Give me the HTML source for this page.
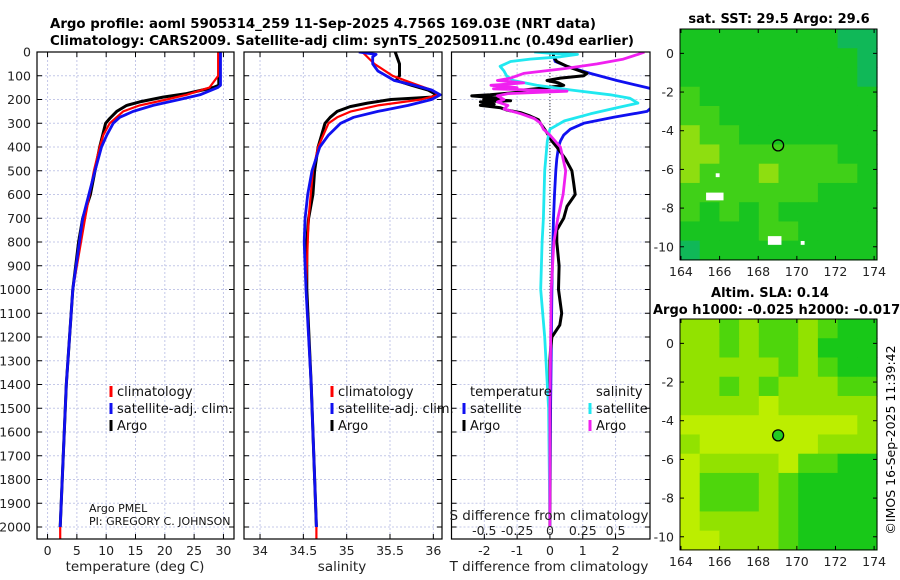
<!DOCTYPE html>
<html><head><meta charset="utf-8"><style>
html,body{margin:0;padding:0;background:#fff;}
svg{display:block;font-family:"DejaVu Sans","Liberation Sans",sans-serif;}
</style></head><body>
<svg id="fig" width="900" height="580" viewBox="0 0 900 580" xmlns="http://www.w3.org/2000/svg">
<g font-weight="bold" font-size="13.5" fill="#000">
<text x="50" y="28" textLength="546" lengthAdjust="spacingAndGlyphs">Argo profile: aoml 5905314_259 11-Sep-2025 4.756S 169.03E (NRT data)</text>
<text x="50" y="45" textLength="584" lengthAdjust="spacingAndGlyphs">Climatology: CARS2009. Satellite-adj clim: synTS_20250911.nc (0.49d earlier)</text>
</g>
<g id="plots"></g>
<g id="maps"></g>
<text transform="translate(895,440) rotate(-90)" text-anchor="middle" font-size="12.5">©IMOS 16-Sep-2025 11:39:42</text>
</svg>
<script>
// ---- data ----
const depthTicks=[0,100,200,300,400,500,600,700,800,900,1000,1100,1200,1300,1400,1500,1600,1700,1800,1900,2000];
const tempTicks=[0,5,10,15,20,25,30];
const salTicks=[34,34.5,35,35.5,36];
const tdTicks=[-2,-1,0,1,2];
const sdTicks=[-0.5,-0.25,0,0.25,0.5];
const sdTickLabels=["-0.5","-0.25","0","0.25","0.5"];
const tArgoD=[0,140,150,175,190,210,225,250,280,300,400,500,600,700,800,900,1000,1400,2000];
const tArgoV=[29.2,29.2,28.2,23.7,19.7,15.7,13.5,11.8,10.6,9.9,8.9,8.1,7.3,6.0,5.3,4.8,4.3,3.2,2.15];
const tClimD=[0,100,150,180,200,225,250,300,350,400,500,700,1000,1400,2000,2050];
const tClimV=[29.1,29.1,27.6,23.7,20.3,15.7,12.9,10.6,9.5,8.9,7.9,6.4,4.3,3.2,2.15,2.15];
const tSatD=[0,140,150,180,200,225,250,275,300,350,400,500,700,1000,1400,2000];
const tSatV=[29.5,29.5,29.0,26,22.5,18,14.6,12.3,11.2,10.1,9.2,8.1,6.0,4.3,3.2,2.15];
const sArgoD=[0,50,100,120,140,160,180,190,200,215,230,250,275,300,350,400,500,600,700,800,1000,1400,2000];
const sArgoV=[35.56,35.61,35.61,35.57,35.75,35.94,36.04,35.98,35.51,35.24,35.04,34.89,34.81,34.75,34.71,34.67,34.63,34.61,34.56,34.54,34.54,34.59,34.65];
const sClimD=[0,50,100,130,160,180,200,225,250,275,300,400,500,700,1000,1400,2000,2050];
const sClimV=[35.18,35.32,35.53,35.75,35.98,36.06,35.86,35.36,35.05,34.89,34.79,34.67,34.61,34.56,34.53,34.59,34.65,34.65];
const sSatD=[0,10,20,50,80,120,140,160,180,200,225,250,275,300,350,400,500,600,700,800,1000,1400,2000];
const sSatV=[35.14,35.34,35.3,35.3,35.36,35.55,35.78,35.98,36.08,35.98,35.71,35.36,35.08,34.93,34.79,34.69,34.6,34.55,34.52,34.51,34.53,34.59,34.65];
const dtSatD=[0,20,40,60,90,120,150,175,250,275,300,325,350,375,400,450,500,600,700,800,1000,1500,2000];
const dtSatV=[0.11,0.11,0.16,0.52,1.23,2.04,2.96,3.6,2.96,1.94,1.03,0.62,0.42,0.32,0.26,0.21,0.18,0.14,0.11,0.09,0.06,0.02,0];
const dtArgoD=[0,20,40,60,80,90,100,110,120,130,140,150,160,170,180,185,195,200,205,210,220,225,235,245,255,270,285,300,320,340,375,400,450,500,550,600,650,700,750,800,900,1000,1100,1150,1200,1250,1300,1500,2000];
const dtArgoV=[0.11,0.11,0.21,0.52,0.92,1.13,1.03,0.32,-0.09,0.26,0.42,-0.09,-0.8,-1.0,-1.82,-2.38,-1.5,-2.02,-1.2,-2.12,-1.7,-2.12,-1.5,-1.3,-0.9,-0.6,-0.35,-0.29,-0.19,-0.09,0.06,0.21,0.47,0.67,0.72,0.77,0.52,0.42,0.21,0.21,0.28,0.26,0.36,0.3,0.06,0.02,0.0,0.0,0.0];
const dsSatD=[0,5,10,20,30,40,60,80,100,120,140,160,180,195,215,235,260,290,325,375,500,700,800,1000,1200,1500,2000];
const dsSatV=[-0.12,0,0.21,0.08,-0.15,-0.3,-0.38,-0.35,-0.33,-0.28,-0.1,0.16,0.46,0.61,0.67,0.51,0.31,0.11,0,-0.02,-0.04,-0.05,-0.06,-0.07,-0.04,-0.01,0];
const dsArgoD=[0,10,30,50,70,90,110,120,130,140,150,155,165,175,185,200,210,225,240,260,280,300,325,350,400,450,500,600,700,800,1000,1500,2000];
const dsArgoV=[0.72,0.67,0.56,0.36,0.11,-0.2,-0.3,-0.4,-0.2,-0.45,-0.25,-0.43,0.13,-0.32,-0.4,-0.35,-0.4,-0.32,-0.35,-0.22,-0.12,-0.07,-0.05,0,0.08,0.1,0.12,0.1,0.06,0.03,0.01,0,0];
const mapLonTicks=[164,166,168,170,172,174];
const mapLatTicks=[0,-2,-4,-6,-8,-10];
const floatLon=169.03, floatLat=-4.756;
const sstGrid=["1111111100","1111111110","1111111110","2111111111","2211111111","3221111111","3322222211","3222322221","2222222111","2121211111","1111221111","0111111111"];
const slaGrid=["1121221233","1121221333","1111121233","1121211122","1111011111","0000000001","1000000111","0111102233","0222123333","0222123333","0111123333","0011123333"];
// ---- drawing ----
const NS="http://www.w3.org/2000/svg";
function mk(tag,attrs,parent){const e=document.createElementNS(NS,tag);for(const k in attrs)e.setAttribute(k,attrs[k]);parent.appendChild(e);return e;}
const plots=document.getElementById('plots');
const Y0=52,YK=0.2375,YB=539;
const yOf=d=>Y0+d*YK;
function panel(name,x0,x1,xmin,xmax){
  const g=mk('g',{},plots);
  
  
  return {g,x0,x1,xs:v=>x0+(v-xmin)/(xmax-xmin)*(x1-x0)};
}
function frame(p,xt,labels,showY){
  const grid=mk('g',{stroke:'#c4c8e8','stroke-width':1,'stroke-dasharray':'2,2'},p.g);
  
  
  depthTicks.forEach(d=>{mk('line',{x1:p.x0,x2:p.x1,y1:yOf(d),y2:yOf(d)},grid);});
  xt.forEach(v=>{mk('line',{x1:p.xs(v),x2:p.xs(v),y1:Y0,y2:YB},grid);});
  const tk=mk('g',{stroke:'#000','stroke-width':1},p.g);
  depthTicks.forEach(d=>{mk('line',{x1:p.x0,x2:p.x0+5,y1:yOf(d),y2:yOf(d)},tk);mk('line',{x1:p.x1,x2:p.x1-5,y1:yOf(d),y2:yOf(d)},tk);});
  xt.forEach(v=>{mk('line',{x1:p.xs(v),x2:p.xs(v),y1:YB,y2:YB-5},tk);mk('line',{x1:p.xs(v),x2:p.xs(v),y1:Y0,y2:Y0+5},tk);});
  const tl=mk('g',{'font-size':12.5,fill:'#222','text-anchor':'middle'},p.g);
  
  
  xt.forEach((v,i)=>{const t=mk('text',{x:p.xs(v),y:555},tl);t.textContent=labels[i];});
  if(showY){const yl=mk('g',{'font-size':12.5,fill:'#222','text-anchor':'end'},p.g);
    
    
    depthTicks.forEach(d=>{const t=mk('text',{x:31,y:yOf(d)+4.5},yl);t.textContent=d;});}
}
function border(p){const r=mk('rect',{x:p.x0,y:Y0,width:p.x1-p.x0,height:YB-Y0,fill:'none',stroke:'#000','stroke-width':1.2},p.g);
  
  }
function line(p,D,V,color,w,name,xf){
  const f=xf||p.xs;
  const pts=D.map((d,i)=>f(V[i]).toFixed(1)+','+yOf(d).toFixed(1)).join(' ');
  const l=mk('polyline',{points:pts,fill:'none',stroke:color,'stroke-width':w,'stroke-linejoin':'round'},p.g);
  
  
}
function text(parent,x,y,s,attrs,name){const t=mk('text',Object.assign({x:x,y:y},attrs||{}),parent);t.textContent=s;
  
  return t;}
function legendEntry(parent,x,y,color,label,name){
  const g=mk('g',{},parent);
  
  
  mk('line',{x1:x,x2:x,y1:y-10,y2:y+1,stroke:color,'stroke-width':3},g);
  const t=mk('text',{x:x+6,y:y,'font-size':13,fill:'#111'},g);t.textContent=label;
}
// panel 1
const p1=panel('temperature-panel',37,234,-1.8,31.8);
frame(p1,tempTicks,tempTicks.map(String),true);
{const c=mk('clipPath',{id:'cp1'},plots);mk('rect',{x:37,y:Y0,width:197,height:YB-Y0},c);}
const c1=mk('g',{'clip-path':'url(#cp1)'},p1.g);
const p1c={g:c1,xs:p1.xs};
line(p1c,tArgoD,tArgoV,'#000',3,'temperature-argo-line');
line(p1c,tClimD,tClimV,'#f00',2.2,'temperature-climatology-line');
line(p1c,tSatD,tSatV,'#1010f0',2.8,'temperature-satellite-line');
border(p1);
text(p1.g,135,571,'temperature (deg C)',{'font-size':13.5,'text-anchor':'middle',fill:'#222'},'x-axis-title-temperature');
legendEntry(p1.g,111,396,'#f00','climatology','legend-climatology');
legendEntry(p1.g,111,413,'#1010f0','satellite-adj. clim.','legend-satellite-adj');
legendEntry(p1.g,111,430,'#000','Argo','legend-argo');
text(p1.g,89,512,'Argo PMEL',{'font-size':11,fill:'#111'},'pi-institution');
text(p1.g,89,525,'PI: GREGORY C. JOHNSON',{'font-size':11,fill:'#111'},'pi-name');
// panel 2
const p2=panel('salinity-panel',244,442,33.815,36.1);
frame(p2,salTicks,salTicks.map(String),false);
{const c=mk('clipPath',{id:'cp2'},plots);mk('rect',{x:244,y:Y0,width:198,height:YB-Y0},c);}
const c2=mk('g',{'clip-path':'url(#cp2)'},p2.g);
const p2c={g:c2,xs:p2.xs};
line(p2c,sArgoD,sArgoV,'#000',3,'salinity-argo-line');
line(p2c,sClimD,sClimV,'#f00',2.2,'salinity-climatology-line');
line(p2c,sSatD,sSatV,'#1010f0',2.8,'salinity-satellite-line');
border(p2);
text(p2.g,342,571,'salinity',{'font-size':13.5,'text-anchor':'middle',fill:'#222'},'x-axis-title-salinity');
legendEntry(p2.g,332,396,'#f00','climatology','legend-climatology-sal');
legendEntry(p2.g,332,413,'#1010f0','satellite-adj. clim.','legend-satellite-adj-sal');
legendEntry(p2.g,332,430,'#000','Argo','legend-argo-sal');
// panel 3
const p3=panel('difference-panel',451.5,650,-3.0,3.05);
frame(p3,tdTicks,tdTicks.map(String),false);
{const c=mk('clipPath',{id:'cp3'},plots);mk('rect',{x:451.5,y:Y0,width:198.5,height:YB-Y0},c);}
const c3=mk('g',{'clip-path':'url(#cp3)'},p3.g);
const p3c={g:c3,xs:p3.xs};
const sx=v=>p3.xs(v*4);
{const z=mk('line',{x1:p3.xs(0),x2:p3.xs(0),y1:Y0,y2:YB,stroke:'#333','stroke-width':1,'stroke-dasharray':'1,2'},c3);
 
 }
line(p3c,dtSatD,dtSatV,'#1010f0',2.8,'t-diff-satellite-line');
line(p3c,dtArgoD,dtArgoV,'#000',3,'t-diff-argo-line');
line(p3c,dsSatD,dsSatV,'#20e8f0',2.8,'s-diff-satellite-line',sx);
line(p3c,dsArgoD,dsArgoV,'#f020f0',2.8,'s-diff-argo-line',sx);
border(p3);
text(p3.g,549,571,'T difference from climatology',{'font-size':13.5,'text-anchor':'middle',fill:'#222'},'x-axis-title-t-diff');
text(p3.g,549,520,'S difference from climatology',{'font-size':13.5,'text-anchor':'middle',fill:'#222'},'s-axis-title');
{const g=mk('g',{'font-size':12.5,fill:'#222','text-anchor':'middle'},p3.g);
 
 
 sdTicks.forEach((v,i)=>{const t=mk('text',{x:sx(v),y:535},g);t.textContent=sdTickLabels[i];});}
text(p3.g,470,396,'temperature',{'font-size':13,fill:'#111'},'legend-title-temperature');
text(p3.g,596,396,'salinity',{'font-size':13,fill:'#111'},'legend-title-salinity');
legendEntry(p3.g,464,413,'#1010f0','satellite','legend-t-satellite');
legendEntry(p3.g,464,430,'#000','Argo','legend-t-argo');
legendEntry(p3.g,590,413,'#20e8f0','satellite','legend-s-satellite');
legendEntry(p3.g,590,430,'#f020f0','Argo','legend-s-argo');
// maps
const maps=document.getElementById('maps');
function drawMap(name,top,grid,colors,filled){
  const g=mk('g',{},maps);
  
  
  const x0=680,x1=877,lonMin=163.95,lonMax=174.15,latTop=1.26,latBot=-10.68;
  const bot=top+(latTop-latBot)*19.34;
  const lx=v=>x0+(v-lonMin)/(lonMax-lonMin)*(x1-x0);
  const ly=v=>top+(latTop-v)*19.34;
  const rows=grid.length,cols=grid[0].length;
  const cw=(x1-x0)/cols,ch=(bot-top)/rows;
  grid.forEach((r,i)=>{for(let j=0;j<cols;j++){mk('rect',{x:x0+j*cw,y:top+i*ch,width:cw+0.6,height:ch+0.6,fill:colors[+r[j]]},g);}});
  const ring=mk('circle',{cx:lx(floatLon),cy:ly(floatLat),r:5.5,fill:filled?'#22cc22':'none',stroke:'#000','stroke-width':1.3},g);
  
  
  mk('rect',{x:x0,y:top,width:x1-x0,height:bot-top,fill:'none',stroke:'#000','stroke-width':1},g);
  const tl=mk('g',{'font-size':12.5,fill:'#222'},g);
  mapLonTicks.forEach(v=>{mk('line',{x1:lx(v),x2:lx(v),y1:bot,y2:bot-4,stroke:'#000'},g);mk('line',{x1:lx(v),x2:lx(v),y1:top,y2:top+4,stroke:'#000'},g);
    const t=mk('text',{x:lx(v),y:bot+16,'text-anchor':'middle'},tl);t.textContent=v;});
  mapLatTicks.forEach(v=>{mk('line',{x1:x0,x2:x0+4,y1:ly(v),y2:ly(v),stroke:'#000'},g);mk('line',{x1:x1,x2:x1-4,y1:ly(v),y2:ly(v),stroke:'#000'},g);
    const t=mk('text',{x:x0-6,y:ly(v)+4.5,'text-anchor':'end'},tl);t.textContent=v;});
  return {g,lx,ly};
}
const m1=drawMap('sst-map',29,sstGrid,['#10b858','#18c420','#40d018','#8ede10'],false);
[[165.3,-7.6,0.9,0.4],[168.5,-9.9,0.7,0.45],[165.8,-6.4,0.2,0.2],[170.2,-9.9,0.2,0.2]].forEach(a=>{
  const r=mk('rect',{x:m1.lx(a[0]),y:m1.ly(a[1]+a[3]),width:a[2]*19.4,height:a[3]*19.34,fill:'#fff'},m1.g);
  
  });
text(maps,779,23,'sat. SST: 29.5 Argo: 29.6',{'font-size':13,'font-weight':'bold','text-anchor':'middle'},'sst-map-title');
const m2=drawMap('sla-map',319,slaGrid,['#bcee00','#92e200','#4ed60c','#18c818'],true);
text(maps,770,297,'Altim. SLA: 0.14',{'font-size':13,'font-weight':'bold','text-anchor':'middle'},'sla-map-title');
text(maps,653,314,'Argo h1000: -0.025 h2000: -0.017',{'font-size':13,'font-weight':'bold'},'steric-height-title');
</script>
</body></html>
